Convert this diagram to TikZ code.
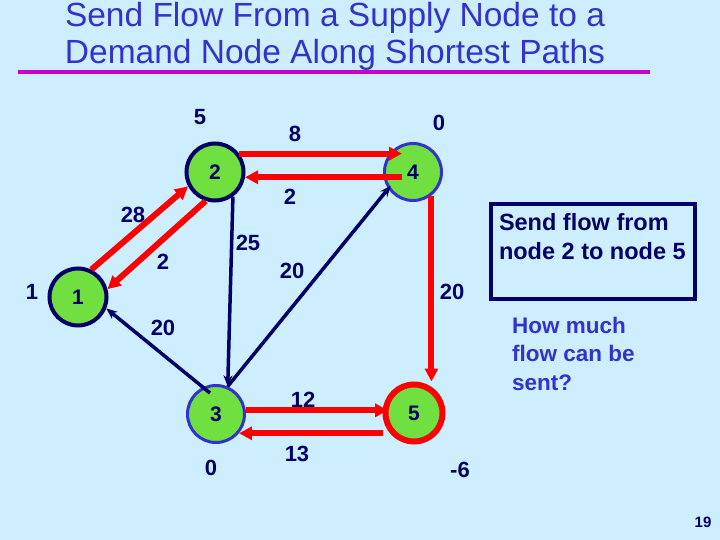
\documentclass[tikz,border=0pt]{standalone}
\usepackage{fontspec}
\setmainfont{Liberation Sans}
\usetikzlibrary{arrows.meta,calc}
\definecolor{slidebg}{HTML}{CCEEFF}
\definecolor{nodegreen}{HTML}{70E040}
\definecolor{navy}{HTML}{000066}
\definecolor{ringblue}{HTML}{3333CC}
\definecolor{pathred}{HTML}{FF0000}
\definecolor{rulemagenta}{HTML}{CC00CC}
\tikzset{
  vertex/.style={circle,fill=nodegreen,minimum size=57pt,inner sep=0pt,text=navy,font=\fontsize{21}{24}\selectfont\bfseries},
  darkvertex/.style={vertex,draw=navy,line width=4pt},
  bluevertex/.style={vertex,draw=ringblue,line width=3pt},
  redvertex/.style={vertex,draw=pathred,line width=6pt},
  lbl/.style={text=navy,inner sep=1pt,font=\fontsize{22}{24}\selectfont\bfseries},
  titletext/.style={text=ringblue,align=center,inner sep=0pt,font=\fontsize{33.5}{37}\selectfont},
  notebox/.style={draw=navy,line width=3.5pt,outer sep=0pt,text=navy,inner xsep=8pt,inner ysep=9pt,font=\fontsize{23.5}{29}\selectfont\bfseries},
  question/.style={text=ringblue,align=left,inner sep=0pt,font=\fontsize{22.5}{28.5}\selectfont\bfseries},
  navyflow/.style={-{Stealth[length=11pt,width=9pt]},line width=3.5pt,draw=navy},
  redflow/.style={-{Triangle[length=13pt,width=13pt]},line width=6pt,draw=pathred}
}
\begin{document}
\begin{tikzpicture}[x=1pt,y=-1pt]
  \fill[slidebg] (0,0) rectangle (720,540);
  \useasboundingbox (0,0) rectangle (720,540);
  % title
  \node[titletext] (title) at (335,36.5) {Send Flow From a Supply Node to a\\Demand Node Along Shortest Paths};
  \draw[rulemagenta,line width=4pt] (18,72) -- (650,72);
  % nodes
  \node[darkvertex] (n1) at (78,297) {1};
  \node[darkvertex] (n2) at (215,172) {2};
  \node[bluevertex] (n3) at (216,414) {3};
  \node[bluevertex] (n4) at (413,172) {4};
  \node[redvertex] (n5) at (414,413) {5};
  % supplies / demands
  \node[lbl] (b1) at (32,292) {1};
  \node[lbl] (b2) at (200,117) {5};
  \node[lbl] (b3) at (211,468) {0};
  \node[lbl] (b4) at (439,123) {0};
  \node[lbl] (b5) at (460,470) {-6};
  % arc labels
  \node[lbl] (c24) at (295,134) {8};
  \node[lbl] (c42) at (290,197) {2};
  \node[lbl] (c12) at (133,215) {28};
  \node[lbl] (c21) at (163,262) {2};
  \node[lbl] (c23) at (248,243) {25};
  \node[lbl] (c34) at (292,271) {20};
  \node[lbl] (c45) at (452,292) {20};
  \node[lbl] (c31) at (163,328) {20};
  \node[lbl] (c35) at (303,400) {12};
  \node[lbl] (c53) at (297,454) {13};
  % arcs
  \draw[redflow] (n1.64) -- (n2.208);
  \draw[redflow] (n2.252) -- (n1.15);
  \draw[redflow] (n2.37) -- ($(n2.37 -| n4)+(-11,0)$);
  \draw[redflow] ($(n2.-10 -| n4)+(-11,0)$) -- (n2.-10);
  \draw[redflow] (n4.-52) -- (n4.-52 |- n5.north);
  \draw[redflow] (n3.7) -- ($(n3.7 -| n5)+(-26,0)$);
  \draw[redflow] ($(n3.-40 -| n5)+(-31,0)$) -- (n3.-40);
  \draw[navyflow] (n2.-54) -- (n3.67);
  \draw[navyflow,shorten >=-4pt] (n3.67) -- (n4.214);
  \draw[navyflow] ($(n3.center)+(-6,-21)$) -- (n1.-22);
  % notes
  \node[notebox] (task) at (593,251.5) {\parbox[c][77pt][t]{188pt}{\raggedright Send flow from\\node 2 to node 5}};
  \node[question,anchor=west] (ask) at (512,353.5) {How much\\flow can be\\sent?};
  \node[text=navy,font=\fontsize{15}{18}\selectfont\bfseries] (pageno) at (703,522) {19};
\end{tikzpicture}
\end{document}
